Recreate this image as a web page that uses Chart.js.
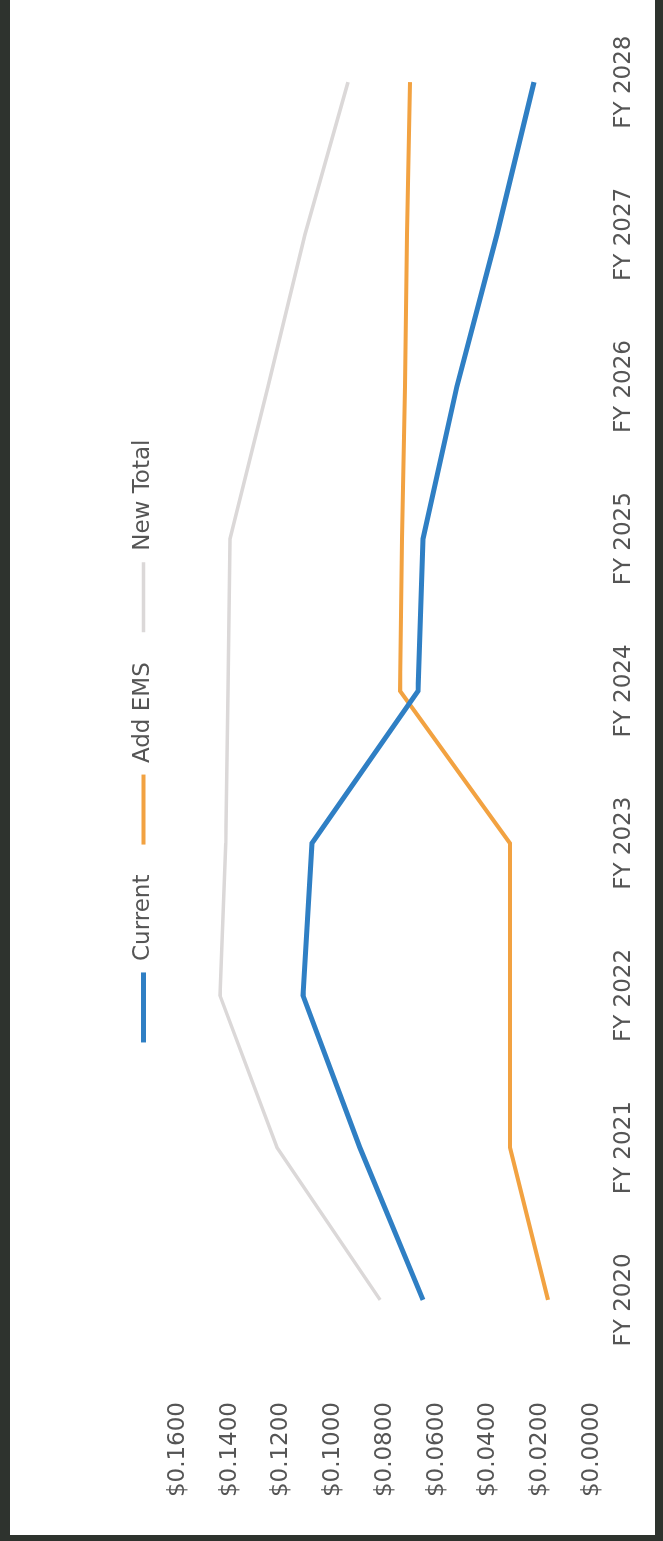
<!DOCTYPE html>
<html lang="en">
<head>
  <meta charset="UTF-8" />
  <title>Current vs Add EMS</title>
  <script src="https://cdn.jsdelivr.net/npm/chart.js"></script>
  <style>
    body {
      margin: 0;
      background-color: #2e332e;
      width: 663px;
      height: 1541px;
      overflow: hidden;
    }

    /* chart is drawn landscape, then turned a quarter left like the scan */
    .sheet {
      position: absolute;
      left: 0;
      top: 0;
      width: 1535px;
      height: 645px;
      background-color: #ffffff;
      transform-origin: 0 0;
      transform: translate(10px, 1535px) rotate(-90deg);
    }
  </style>
</head>
<body>
  <div class="sheet">
    <canvas id="costChart" width="1535" height="645"></canvas>
  </div>

  <script>
    const years = ["FY 2020", "FY 2021", "FY 2022", "FY 2023", "FY 2024", "FY 2025", "FY 2026", "FY 2027", "FY 2028"];
    const current = [0.0653, 0.0897, 0.1117, 0.1082, 0.0672, 0.0653, 0.0522, 0.0367, 0.0224];
    const addEms = [0.0170, 0.0317, 0.0317, 0.0317, 0.0742, 0.0734, 0.0723, 0.0715, 0.0703];
    const newTotal = [0.0819, 0.1217, 0.1438, 0.1415, 0.1407, 0.1399, 0.1252, 0.1109, 0.0943];
    const yTicks = [0, 0.02, 0.04, 0.06, 0.08, 0.10, 0.12, 0.14, 0.16];

    const textColor = "#555555";
    const font = { family: "'DejaVu Sans', sans-serif", size: 23 };

    const makeSet = (label, data, color, width) => ({
      label: label,
      data: data,
      borderColor: color,
      backgroundColor: color,
      borderWidth: width,
      pointRadius: 0,
      tension: 0,
      fill: false
    });

    // legend block ends where the plot starts, and sits a bit right of centre
    const legendPlace = {
      id: 'legendPlace',
      beforeInit(chart) {
        const fit = chart.legend.fit;
        chart.legend.fit = function () {
          fit.bind(chart.legend)();
          this.height = 76;
        };
      },
      afterLayout(chart) {
        chart.legend.left = 59;
      }
    };

    new Chart(document.getElementById('costChart'), {
      type: 'line',
      data: {
        labels: years,
        datasets: [
          makeSet("Current", current, "#2f7fc4", 5),
          makeSet("Add EMS", addEms, "#f2a241", 4),
          makeSet("New Total", newTotal, "#dbd8d8", 3.5)
        ]
      },
      plugins: [legendPlace],
      options: {
        responsive: false,
        animation: false,
        layout: { padding: { left: 0, right: 6, top: 92, bottom: 0 } },
        plugins: {
          legend: {
            position: 'top',
            labels: {
              color: textColor,
              font: font,
              usePointStyle: true,
              pointStyle: 'line',
              pointStyleWidth: 70,
              padding: 30
            }
          },
          tooltip: { enabled: false }
        },
        scales: {
          x: {
            offset: true,
            grid: { display: false },
            border: { display: false },
            afterFit: (axis) => { axis.height = 63; },
            ticks: { color: textColor, font: font, padding: 10, maxRotation: 0 }
          },
          y: {
            min: 0,
            max: 0.16,
            grid: { display: false },
            border: { display: false },
            afterFit: (axis) => { axis.width = 159; },
            afterBuildTicks: (axis) => {
              axis.ticks = yTicks.map(v => ({ value: v }));
            },
            ticks: {
              color: textColor,
              font: font,
              padding: 18,
              callback: (v) => "$" + Number(v).toFixed(4)
            }
          }
        }
      }
    });
  </script>
</body>
</html>
